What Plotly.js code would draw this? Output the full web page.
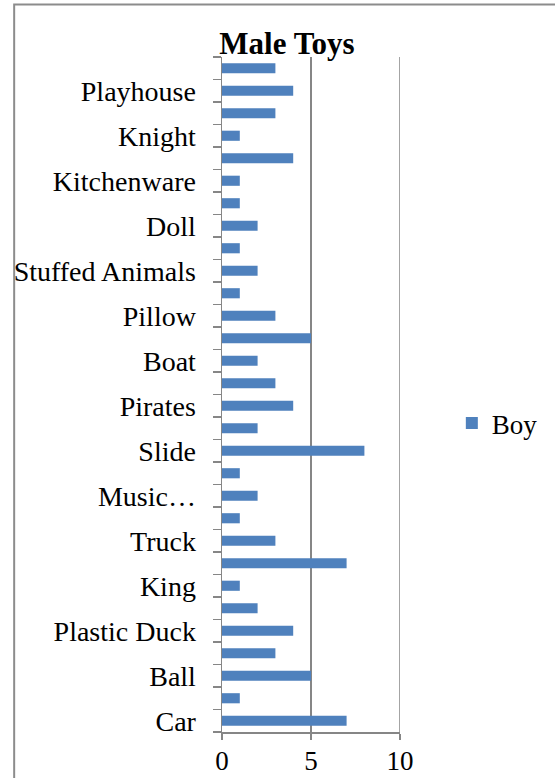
<!DOCTYPE html>
<html>
<head>
<meta charset="utf-8">
<script src="https://cdn.plot.ly/plotly-3.0.1.min.js"></script>
<style>html,body{margin:0;padding:0;background:#fff;}#chart{width:555px;height:778px;}</style>
</head>
<body>
<div id="chart"></div>
<script>
// Categories from bottom (Car) to top
var categories = [
  "Car", "Robot", "Ball", "Blocks", "Plastic Duck", "Train", "King", "Dinosaur",
  "Truck", "Puzzle", "Musical Instruments", "Drum", "Slide", "Swing", "Pirates", "Sword",
  "Boat", "Airplane", "Pillow", "Blanket", "Stuffed Animals", "Teddy Bear", "Doll", "Tea Set",
  "Kitchenware", "Castle", "Knight", "Dragon", "Playhouse", "Tent"
];
var boyValues = [
  7, 1, 5, 3, 4, 2, 1, 7,
  3, 1, 2, 1, 8, 2, 4, 3,
  2, 5, 3, 1, 2, 1, 2, 1,
  1, 4, 1, 3, 4, 3
];
// Tick labels shown on the axis (every other category)
var tickLabels = [
  "Car", "Ball", "Plastic Duck", "King", "Truck", "Music…", "Slide", "Pirates",
  "Boat", "Pillow", "Stuffed Animals", "Doll", "Kitchenware", "Knight", "Playhouse"
];
var xTicks = [0, 5, 10];
var seriesName = "Boy";
var chartTitle = "Male Toys";

var idx = categories.map(function (c, i) { return i; });
var labelPos = tickLabels.map(function (t, k) { return 2 * k; });

var font = "'Liberation Serif', 'Times New Roman', serif";
var grey = "#868686";
var plotH = 778 - 57 - 46;

var trace = {
  type: "bar",
  orientation: "h",
  name: seriesName,
  y: idx,
  x: boyValues,
  hovertext: categories,
  hoverinfo: "text+x",
  textposition: "none",
  marker: { color: "#4F81BD" },
  showlegend: true
};

var layout = {
  width: 555,
  height: 778,
  margin: { l: 222, r: 151, t: 57, b: 46, pad: 0 },
  paper_bgcolor: "#fff",
  plot_bgcolor: "#fff",
  bargap: 0.55,
  font: { family: font, color: "#000", size: 27 },
  title: {
    text: "<b>" + chartTitle + "</b>",
    font: { family: font, size: 31, color: "#000" },
    xref: "paper", x: 0.365, xanchor: "center",
    yref: "container", y: 1 - 43 / 778, yanchor: "middle"
  },
  xaxis: {
    range: [0, 10],
    tickvals: xTicks,
    ticks: "outside", ticklen: 6, tickwidth: 1.5, tickcolor: grey,
    showline: true, linecolor: grey, linewidth: 1.5,
    showgrid: true, gridcolor: grey, gridwidth: 1.5,
    zeroline: false,
    tickfont: { family: font, size: 27, color: "#000" },
    ticklabelstandoff: -2,
    fixedrange: true
  },
  yaxis: {
    range: [-0.5, categories.length - 0.5],
    tickmode: "array",
    tickvals: labelPos,
    ticktext: tickLabels,
    ticks: "", ticklen: 0,
    ticklabelstandoff: 19,
    minor: { tick0: -0.5, dtick: 1, ticks: "outside", ticklen: 8, tickwidth: 1.5, tickcolor: grey, showgrid: false },
    showline: true, linecolor: grey, linewidth: 1.5,
    showgrid: false, zeroline: false,
    tickfont: { family: font, size: 28, color: "#000" },
    fixedrange: true
  },
  legend: {
    x: 1.2912, xanchor: "left",
    y: (731.5 - 423) / plotH, yanchor: "middle",
    font: { family: font, size: 27, color: "#000" },
    bgcolor: "rgba(0,0,0,0)", borderwidth: 0
  },
  shapes: [{
    type: "rect", xref: "paper", yref: "paper",
    x0: (9.5 - 222) / 182, x1: 2,
    y0: -1, y1: (732 - 4.5) / plotH,
    line: { color: "#8c8c8c", width: 2 },
    fillcolor: "rgba(0,0,0,0)",
    layer: "below"
  }, {
    type: "line", xref: "x", yref: "paper",
    x0: xTicks[xTicks.length - 1], x1: xTicks[xTicks.length - 1],
    y0: 0, y1: 1,
    line: { color: grey, width: 1.5 },
    layer: "below"
  }]
};

Plotly.newPlot("chart", [trace], layout, { displayModeBar: false, staticPlot: true });
</script>
</body>
</html>
